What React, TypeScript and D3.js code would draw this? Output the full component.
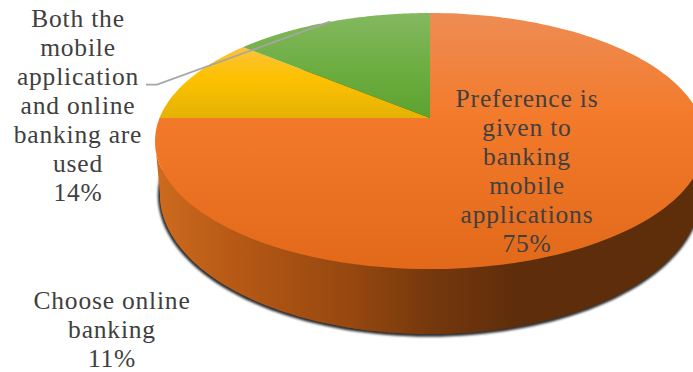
import React from "react";
import * as d3 from "d3";

// Shares of respondents, in drawing order clockwise from twelve o'clock.
const shareKeys = ["mobile", "online", "both"];
const shareValues = [75, 11, 14];
const shareLabels = [
  ["Preference is", "given to", "banking", "mobile", "applications"],
  ["Choose online", "banking"],
  ["Both the", "mobile", "application", "and online", "banking are", "used"],
];

const WIDTH = 693;
const HEIGHT = 372;
const LINE_HEIGHT = 29;

// Perspective of the tilted disc: the pie centre sits above the middle of the ellipse.
const CX = 430;
const APEX_Y = 118;
const SCALE_X = 270.5;
const SCALE_Y = 123.9;
const TILT = -0.18;

// Lower rim of the disc.
const RIM = { cy: 194, rx: 270, ry: 140 };

// Maps a pie angle (0 at twelve o'clock, clockwise) and radius fraction to the screen.
const project = (angle: number, r = 1): [number, number] => {
  const u = Math.sin(angle) * r;
  const v = -Math.cos(angle) * r;
  const w = 1 + TILT * v;
  return [CX + (SCALE_X * u) / w, APEX_Y + (SCALE_Y * v) / w];
};

const rimPoint = (angle: number): [number, number] => [
  CX + RIM.rx * Math.sin(angle),
  RIM.cy - RIM.ry * Math.cos(angle),
];

const angleSteps = (a0: number, a1: number, n = 160) =>
  d3.range(n + 1).map((i) => a0 + ((a1 - a0) * i) / n);

const line = d3.line<[number, number]>();

const pieArcs = d3
  .pie<number>()
  .sort(null)
  .startAngle(0)
  .endAngle(2 * Math.PI)(shareValues);

const slicePath = (a0: number, a1: number) =>
  line([[CX, APEX_Y], ...angleSteps(a0, a1).map((a) => project(a))]) + "Z";

const eastWest = [Math.PI / 2, (3 * Math.PI) / 2];
// Silhouette of the disc wall: front half of the upper ellipse, back along the lower rim.
const topEdge = (a: number): [number, number] => {
  const cy = 141;
  return [CX + 275 * Math.sin(a), cy - 128 * Math.cos(a)];
};
const wallPath =
  line([
    ...angleSteps(eastWest[0], eastWest[1]).map(topEdge),
    ...angleSteps(eastWest[1], eastWest[0]).map(rimPoint),
  ]) + "Z";
const rimPath = line(angleSteps(0, 2 * Math.PI).map(rimPoint)) + "Z";

const leaderPoints: [number, number][] = [
  [146, 84.7],
  [157, 84.7],
  [330, 21.7],
];

const Label = ({ lines, value, x, y }: { lines: string[]; value: number; x: number; y: number }) => (
  <text
    x={x}
    textAnchor="middle"
    fontFamily="'Liberation Serif', serif"
    fontSize={25.5}
    letterSpacing={0.8}
    fill="#404040"
  >
    {[...lines, `${value}%`].map((t, i) => (
      <tspan key={i} x={x} y={y + i * LINE_HEIGHT}>
        {t}
      </tspan>
    ))}
  </text>
);

const gradients: Record<string, [number, string][]> = {
  mobile: [
    [13, "#ee8c54"],
    [118, "#f37a2a"],
    [269, "#e2691a"],
  ],
  online: [
    [47, "#fcc23c"],
    [78, "#fdc100"],
    [118, "#e4b205"],
  ],
  both: [
    [13, "#85b860"],
    [70, "#6cad40"],
    [118, "#5da330"],
  ],
};

const wallStops: [number, string][] = [
  [160, "#cc6a1e"],
  [230, "#b85a16"],
  [300, "#a44f12"],
  [350, "#96480f"],
  [430, "#76380d"],
  [520, "#5e2d0b"],
  [693, "#5e2d0a"],
];

export default function App() {
  return (
    <svg
      width={WIDTH}
      height={HEIGHT}
      style={{ position: "absolute", left: 0, top: 0, display: "block", background: "#fff" }}
    >
      <defs>
        {shareKeys.map((k) => (
          <linearGradient key={k} id={`face-${k}`} gradientUnits="userSpaceOnUse" x1={0} x2={0} y1={gradients[k][0][0]} y2={gradients[k][gradients[k].length - 1][0]}>
            {gradients[k].map(([y, c]) => {
              const first = gradients[k][0][0];
              const last = gradients[k][gradients[k].length - 1][0];
              return <stop key={y} offset={(y - first) / (last - first)} stopColor={c} />;
            })}
          </linearGradient>
        ))}
        <linearGradient id="wall" gradientUnits="userSpaceOnUse" x1={160} x2={693} y1={0} y2={0}>
          {wallStops.map(([x, c]) => (
            <stop key={x} offset={(x - 160) / (693 - 160)} stopColor={c} />
          ))}
        </linearGradient>
        <filter id="soft" x="-5%" y="-5%" width="110%" height="110%">
          <feGaussianBlur stdDeviation={1.3} />
        </filter>
      </defs>

      {/* Soft shadow hugging the lower rim */}
      <path d={rimPath} fill="#303030" stroke="#303030" strokeWidth={3.5} filter="url(#soft)" transform="translate(-0.5,1)" />
      <path d={wallPath} fill="url(#wall)" />
      <path d={rimPath} fill="url(#wall)" />

      {pieArcs.map((arc, i) => (
        <path key={shareKeys[i]} d={slicePath(arc.startAngle, arc.endAngle)} fill={`url(#face-${shareKeys[i]})`} />
      ))}

      <path d={line(leaderPoints) ?? ""} fill="none" stroke="#a6a6a6" strokeWidth={1.8} />

      <Label lines={shareLabels[0]} value={shareValues[0]} x={527} y={107} />
      <Label lines={shareLabels[1]} value={shareValues[1]} x={112} y={309} />
      <Label lines={shareLabels[2]} value={shareValues[2]} x={78} y={27} />
    </svg>
  );
}
